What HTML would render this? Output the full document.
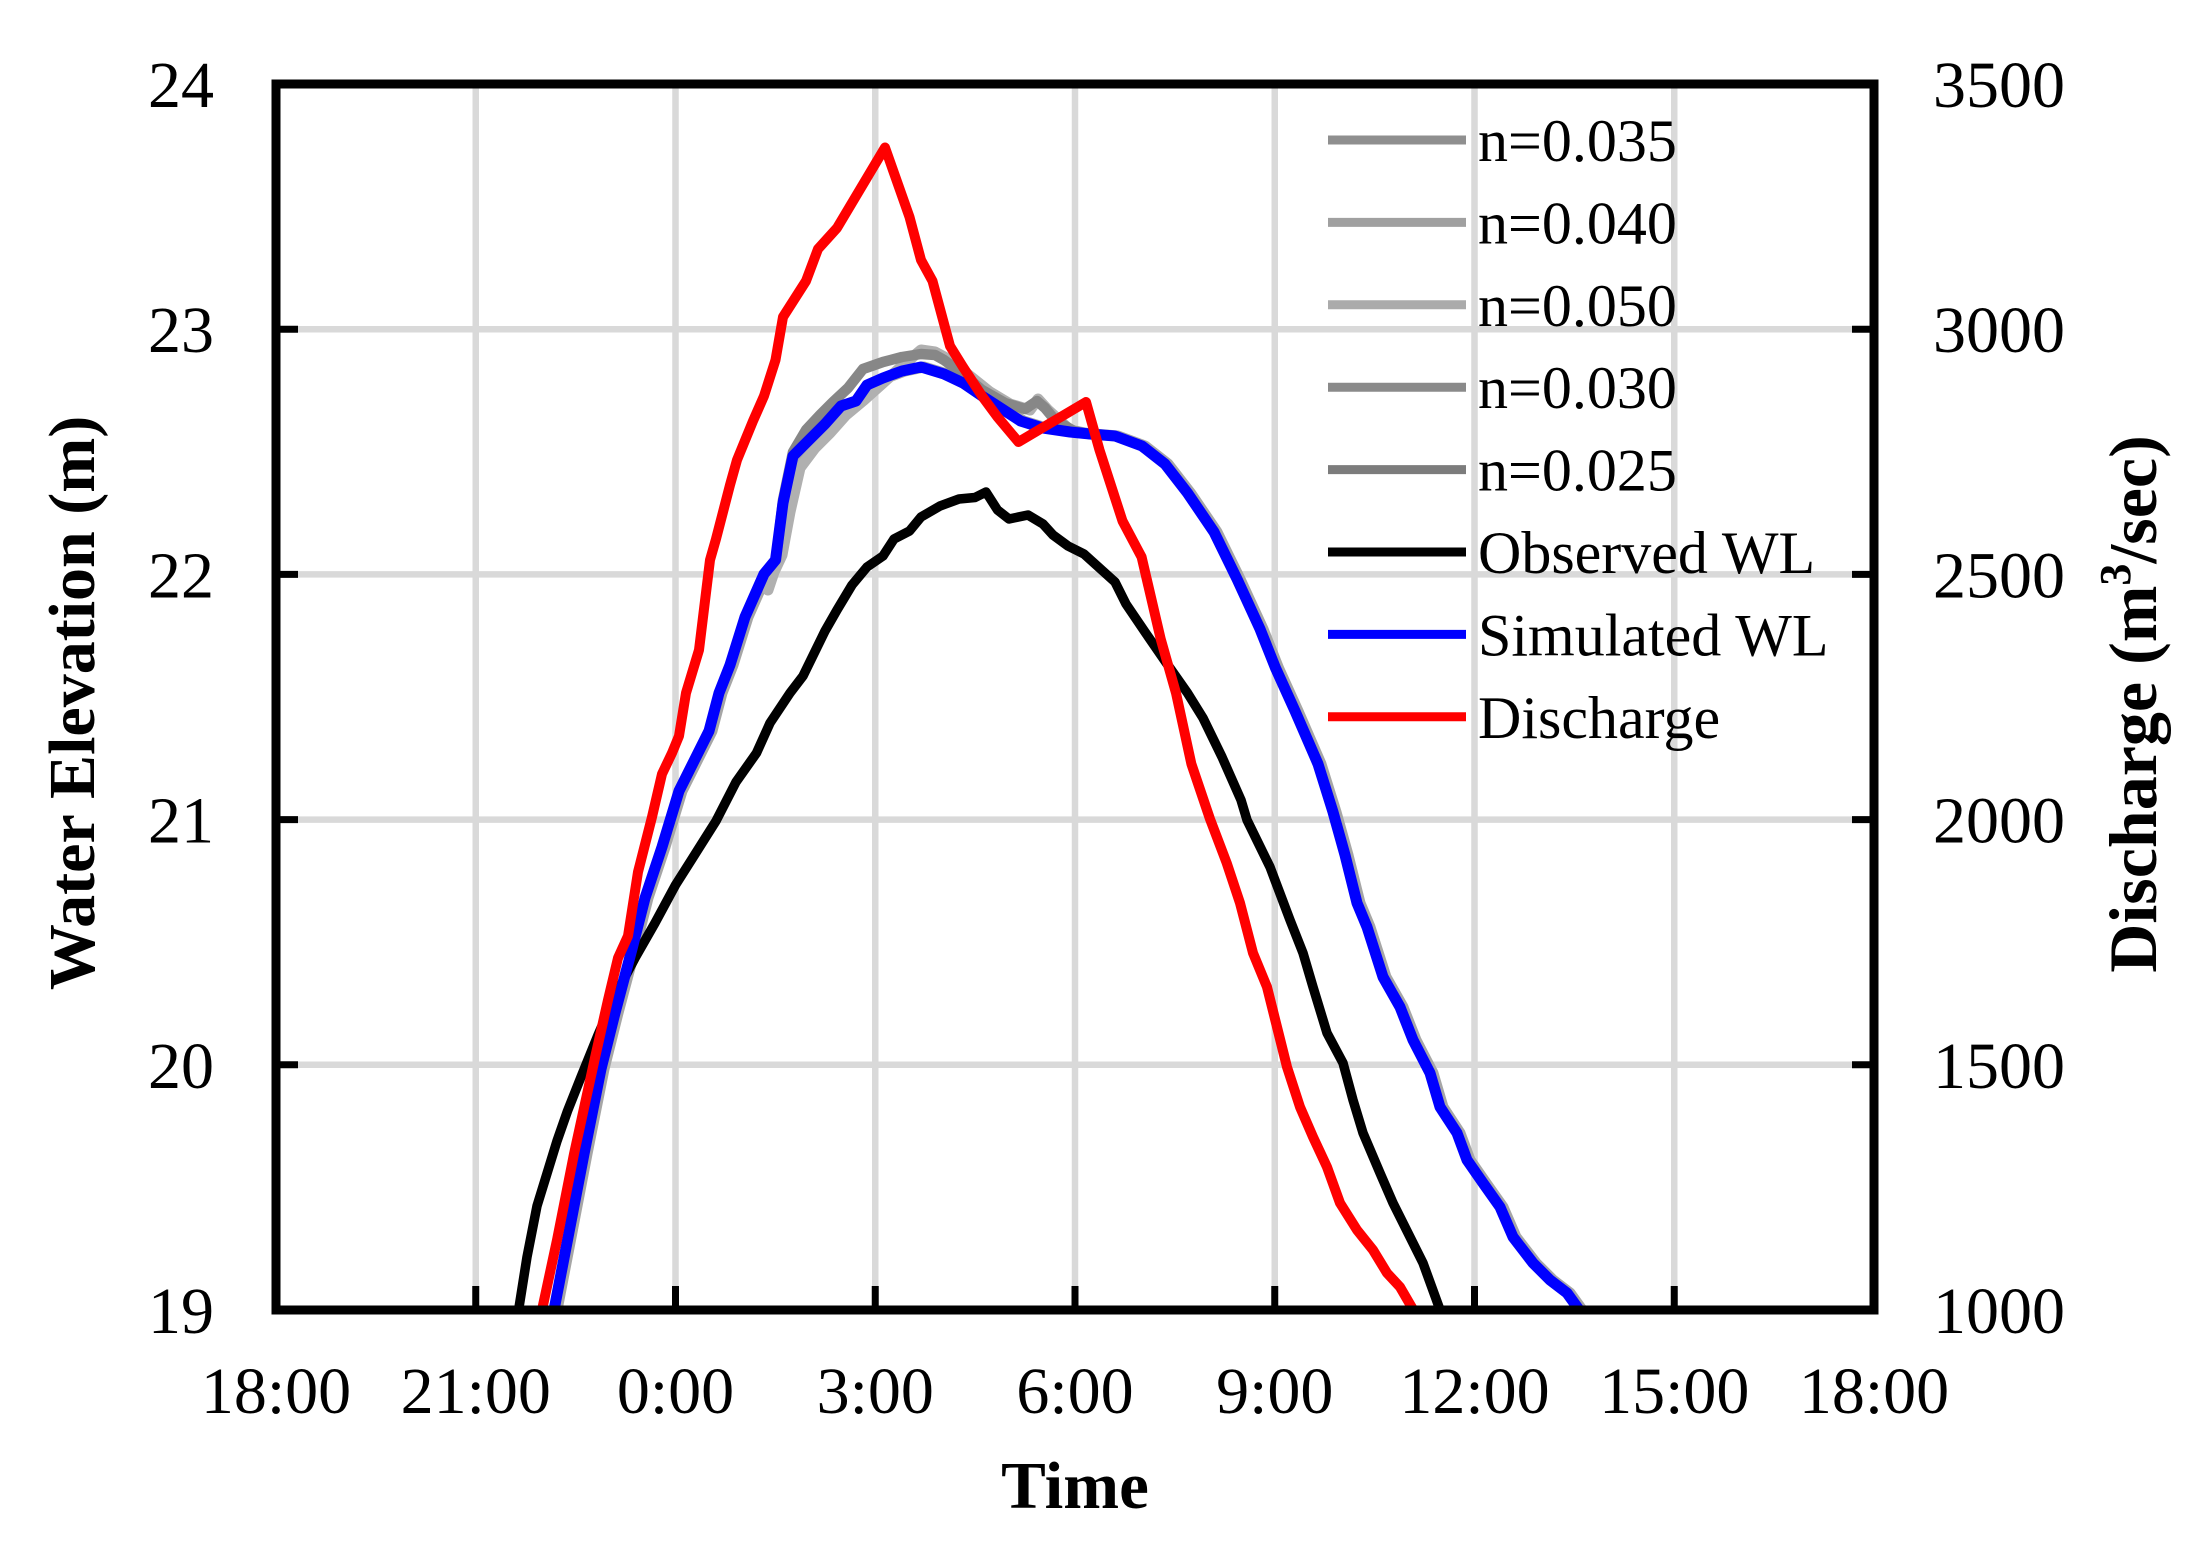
<!DOCTYPE html>
<html>
<head>
<meta charset="utf-8">
<style>
  html, body { margin: 0; padding: 0; background: #ffffff; }
  svg { display: block; }
  text { font-family: "Liberation Serif", "Times New Roman", serif; fill: #000; }
</style>
</head>
<body>
<svg width="2203" height="1546" viewBox="0 0 2203 1546" xmlns="http://www.w3.org/2000/svg">
  <rect x="0" y="0" width="2203" height="1546" fill="#ffffff"/>
  <defs>
    <clipPath id="plot">
      <rect x="276" y="84" width="1598" height="1226"/>
    </clipPath>
  </defs>

  <!-- gridlines -->
  <g stroke="#d9d9d9" stroke-width="6.5" fill="none">
    <line x1="475.75" y1="84" x2="475.75" y2="1310"/>
    <line x1="675.5" y1="84" x2="675.5" y2="1310"/>
    <line x1="875.25" y1="84" x2="875.25" y2="1310"/>
    <line x1="1075" y1="84" x2="1075" y2="1310"/>
    <line x1="1274.75" y1="84" x2="1274.75" y2="1310"/>
    <line x1="1474.5" y1="84" x2="1474.5" y2="1310"/>
    <line x1="1674.25" y1="84" x2="1674.25" y2="1310"/>
    <line x1="276" y1="1064.8" x2="1874" y2="1064.8"/>
    <line x1="276" y1="819.6" x2="1874" y2="819.6"/>
    <line x1="276" y1="574.4" x2="1874" y2="574.4"/>
    <line x1="276" y1="329.2" x2="1874" y2="329.2"/>
  </g>

  <!-- series -->
  <g clip-path="url(#plot)" fill="none" stroke-linejoin="round" stroke-linecap="round">
    <!-- gray sensitivity runs -->
    <path transform="translate(3,0)" stroke="#a6a6a6" stroke-width="11"
      d="M551,1325 L554,1310 L567.5,1240 L584,1154 L601,1069 L615,1013 L632,949 L645,898 L662,847 L679,791 L692,765 L709,731 L719,693 L730,665 L745,617 L764,574 L775.5,560 L783,503 L793,456 L810,439 L825,424 L841,406 L856,401 L867,385 L883,378 L902,371 L921,367 L944,374 L963,383 L982,396 L997.5,406 L1020.5,421 L1043,428 L1070,432 L1090,434 L1115,436 L1142,446 L1165,464 L1187.5,493 L1214,532 L1237,579 L1260,629 L1275.5,668 L1295,711 L1318,764 L1333,812 L1345,855 L1357,903 L1367,927 L1383,977 L1400,1007 L1413,1040 L1430,1073 L1440,1107 L1457,1133 L1467,1160 L1483,1183 L1500,1207 L1513,1237 L1533,1263 L1550,1280 L1567,1293 L1585,1318"/>
    <path stroke="#b0b0b0" stroke-width="11"
      d="M768,590 L774,572 L782,555 L790,512 L800,468 L815,448 L830,433 L846,415 L864,400 L883,383 L902,366 L921,350 L935,352 L950,360 L970,376 L990,392 L1010,404 L1030,410 L1038,399 L1048,410 L1070,430 L1090,434"/>
    <path stroke="#878787" stroke-width="10.5"
      d="M776,560 L783,500 L793,452 L806,430 L820,415 L833,402 L848,388 L863,369 L883,362 L902,357 L921,354 L935,355 L944,360 L963,374 L982,390 L1005,403 L1025,409 L1037,401 L1045,408 L1055,420 L1074,431 L1090,434"/>

    <!-- Observed WL -->
    <path stroke="#000000" stroke-width="9.5"
      d="M516,1322 L518.6,1310 L527,1257 L537,1206 L557,1141 L567.5,1111 L581,1077 L598,1035 L615,996 L635,958 L655,923 L675.5,885 L692,859 L716,821 L736,782 L756.5,753 L770,723 L790,693 L803,676 L825,631 L837,610 L852,585 L867,567 L883,556 L894,539 L909.5,531 L921,517 L940,506 L959,499 L975,497.5 L986,492 L997.5,510 L1009,519 L1028,515 L1043,524 L1053,535 L1068,546 L1084,554 L1099.5,568 L1115,582 L1126,604 L1145,632 L1165,661 L1187.5,693 L1203,718 L1222,757 L1241,800 L1247,820 L1270,867 L1290,920 L1303,953 L1313,987 L1327,1033 L1343,1063 L1353,1100 L1363,1133 L1380,1173 L1393,1203 L1410,1237 L1423,1263 L1443,1318"/>

    <!-- Simulated WL -->
    <path stroke="#0000ff" stroke-width="11"
      d="M551,1325 L554,1310 L567.5,1240 L584,1154 L601,1069 L615,1013 L632,949 L645,898 L662,847 L679,791 L692,765 L709,731 L719,693 L730,665 L745,617 L764,574 L775.5,560 L783,503 L793,456 L810,439 L825,424 L841,406 L856,401 L867,385 L883,378 L902,371 L921,367 L944,374 L963,383 L982,396 L997.5,406 L1020.5,421 L1043,428 L1070,432 L1090,434 L1115,436 L1142,446 L1165,464 L1187.5,493 L1214,532 L1237,579 L1260,629 L1275.5,668 L1295,711 L1318,764 L1333,812 L1345,855 L1357,903 L1367,927 L1383,977 L1400,1007 L1413,1040 L1430,1073 L1440,1107 L1457,1133 L1467,1160 L1483,1183 L1500,1207 L1513,1237 L1533,1263 L1550,1280 L1567,1293 L1585,1318"/>

    <!-- Discharge -->
    <path stroke="#ff0000" stroke-width="10"
      d="M540,1320 L542,1310 L557,1240 L574,1154 L594.5,1060 L608,1000 L618,958 L628,936 L638,872 L652,817 L662,774 L672,753 L679,736 L686,693 L699,650 L710,560 L716,539 L730,485 L737,460 L753,421 L764,396 L775.5,360 L783,317 L806,281 L818,249 L837,228 L885,147.5 L909.5,217 L921,260 L932.5,281 L950,346 L963,367 L982,396 L997.5,417 L1018.5,442 L1086,402 L1099.5,450 L1122.5,521 L1141.6,557 L1160.7,639 L1176,693 L1191.4,764 L1210,819 L1226.7,863 L1240,903 L1253,953 L1267,987 L1277,1027 L1287,1067 L1300,1107 L1313,1137 L1327,1167 L1340,1203 L1357,1230 L1373,1250 L1387,1273 L1400,1287 L1418,1318"/>
  </g>

  <!-- ticks -->
  <g stroke="#000" stroke-width="7">
    <line x1="475.75" y1="1286" x2="475.75" y2="1310"/>
    <line x1="675.5" y1="1286" x2="675.5" y2="1310"/>
    <line x1="875.25" y1="1286" x2="875.25" y2="1310"/>
    <line x1="1075" y1="1286" x2="1075" y2="1310"/>
    <line x1="1274.75" y1="1286" x2="1274.75" y2="1310"/>
    <line x1="1474.5" y1="1286" x2="1474.5" y2="1310"/>
    <line x1="1674.25" y1="1286" x2="1674.25" y2="1310"/>
    <line x1="276" y1="1064.8" x2="298" y2="1064.8"/>
    <line x1="276" y1="819.6" x2="298" y2="819.6"/>
    <line x1="276" y1="574.4" x2="298" y2="574.4"/>
    <line x1="276" y1="329.2" x2="298" y2="329.2"/>
    <line x1="1852" y1="1064.8" x2="1874" y2="1064.8"/>
    <line x1="1852" y1="819.6" x2="1874" y2="819.6"/>
    <line x1="1852" y1="574.4" x2="1874" y2="574.4"/>
    <line x1="1852" y1="329.2" x2="1874" y2="329.2"/>
  </g>

  <!-- plot border -->
  <rect x="276" y="84" width="1598" height="1226" fill="none" stroke="#000" stroke-width="9"/>

  <!-- legend -->
  <g stroke-width="9" fill="none">
    <line x1="1328" y1="140" x2="1466" y2="140" stroke="#8f8f8f"/>
    <line x1="1328" y1="222.4" x2="1466" y2="222.4" stroke="#a0a0a0"/>
    <line x1="1328" y1="304.8" x2="1466" y2="304.8" stroke="#ababab"/>
    <line x1="1328" y1="387.2" x2="1466" y2="387.2" stroke="#8a8a8a"/>
    <line x1="1328" y1="469.6" x2="1466" y2="469.6" stroke="#7c7c7c"/>
    <line x1="1328" y1="552" x2="1466" y2="552" stroke="#000000"/>
    <line x1="1328" y1="634.4" x2="1466" y2="634.4" stroke="#0000ff"/>
    <line x1="1328" y1="716.8" x2="1466" y2="716.8" stroke="#ff0000"/>
  </g>
  <g font-size="60">
    <text x="1478" y="161">n=0.035</text>
    <text x="1478" y="243.4">n=0.040</text>
    <text x="1478" y="325.8">n=0.050</text>
    <text x="1478" y="408.2">n=0.030</text>
    <text x="1478" y="490.6">n=0.025</text>
    <text x="1478" y="573">Observed WL</text>
    <text x="1478" y="655.4">Simulated WL</text>
    <text x="1478" y="737.8">Discharge</text>
  </g>

  <!-- left tick labels -->
  <g font-size="66" text-anchor="end">
    <text x="214" y="107">24</text>
    <text x="214" y="352.2">23</text>
    <text x="214" y="597.4">22</text>
    <text x="214" y="842.6">21</text>
    <text x="214" y="1087.8">20</text>
    <text x="214" y="1333">19</text>
  </g>

  <!-- right tick labels -->
  <g font-size="66" text-anchor="start">
    <text x="1933" y="107">3500</text>
    <text x="1933" y="352.2">3000</text>
    <text x="1933" y="597.4">2500</text>
    <text x="1933" y="842.6">2000</text>
    <text x="1933" y="1087.8">1500</text>
    <text x="1933" y="1333">1000</text>
  </g>

  <!-- bottom tick labels -->
  <g font-size="66" text-anchor="middle">
    <text x="276" y="1413">18:00</text>
    <text x="475.75" y="1413">21:00</text>
    <text x="675.5" y="1413">0:00</text>
    <text x="875.25" y="1413">3:00</text>
    <text x="1075" y="1413">6:00</text>
    <text x="1274.75" y="1413">9:00</text>
    <text x="1474.5" y="1413">12:00</text>
    <text x="1674.25" y="1413">15:00</text>
    <text x="1874" y="1413">18:00</text>
  </g>

  <!-- axis titles -->
  <text x="1075" y="1508" font-size="67" font-weight="bold" text-anchor="middle">Time</text>
  <text transform="translate(94,703) rotate(-90)" font-size="66" font-weight="bold" text-anchor="middle">Water Elevation (m)</text>
  <text transform="translate(2156,704) rotate(-90)" font-size="68" font-weight="bold" text-anchor="middle">Discharge (m<tspan font-size="44" dy="-26">3</tspan><tspan dy="26">/sec)</tspan></text>
</svg>
</body>
</html>
